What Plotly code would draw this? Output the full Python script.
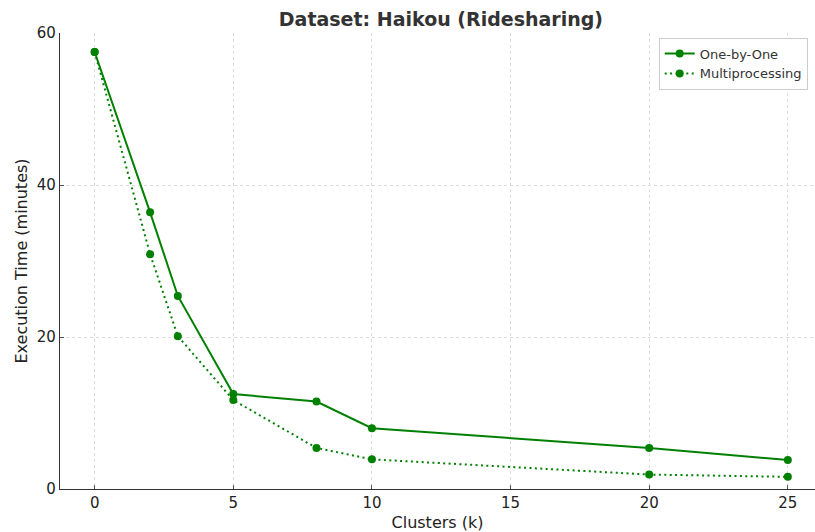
import plotly.graph_objects as go

clusters = [0, 2, 3, 5, 8, 10, 20, 25]
one_by_one = [57.5, 36.4, 25.4, 12.5, 11.5, 8.0, 5.4, 3.8]
multiprocessing = [57.5, 30.9, 20.1, 11.7, 5.4, 3.9, 1.9, 1.6]

green = "#008000"
font = "DejaVu Sans"

fig = go.Figure()
fig.add_trace(go.Scatter(
    x=clusters, y=one_by_one, mode="lines+markers", name="One-by-One",
    line=dict(color=green, width=2), marker=dict(color=green, size=8),
))
fig.add_trace(go.Scatter(
    x=clusters, y=multiprocessing, mode="lines+markers", name="Multiprocessing",
    line=dict(color=green, width=2, dash="2px,3.4px"), marker=dict(color=green, size=8),
))

axis_common = dict(
    showgrid=True, gridcolor="#dcdcdc", griddash="3px,3px", gridwidth=1,
    showline=True, linecolor="#333", linewidth=1.2,
    ticks="inside", ticklen=4, tickcolor="#555", zeroline=False,
    tickfont=dict(size=15, color="#222"),
)

fig.update_layout(
    width=815, height=532,
    margin=dict(l=60, r=0, t=33, b=43),
    plot_bgcolor="white", paper_bgcolor="white",
    font=dict(family=font, size=15, color="#222"),
    title=dict(text="<b>Dataset: Haikou (Ridesharing)</b>", xref="container", x=0.541,
               xanchor="center", yref="container", y=0.964, yanchor="middle",
               font=dict(size=19, color="#333")),
    xaxis=dict(
        range=[-1.25, 25.98], tickvals=[0, 5, 10, 15, 20, 25],
        title=dict(text="Clusters (k)", standoff=5, font=dict(size=16)),
        **axis_common,
    ),
    yaxis=dict(
        range=[0, 60], tickvals=[0, 20, 40, 60],
        title=dict(text="Execution Time (minutes)", standoff=5, font=dict(size=16)),
        **axis_common,
    ),
    legend=dict(
        x=0.793, y=0.99, xanchor="left", yanchor="top",
        bgcolor="white", bordercolor="#cccccc", borderwidth=1,
        font=dict(size=13, color="#333"), itemwidth=30, tracegroupgap=2,
    ),
)

fig.write_html("out.html")
